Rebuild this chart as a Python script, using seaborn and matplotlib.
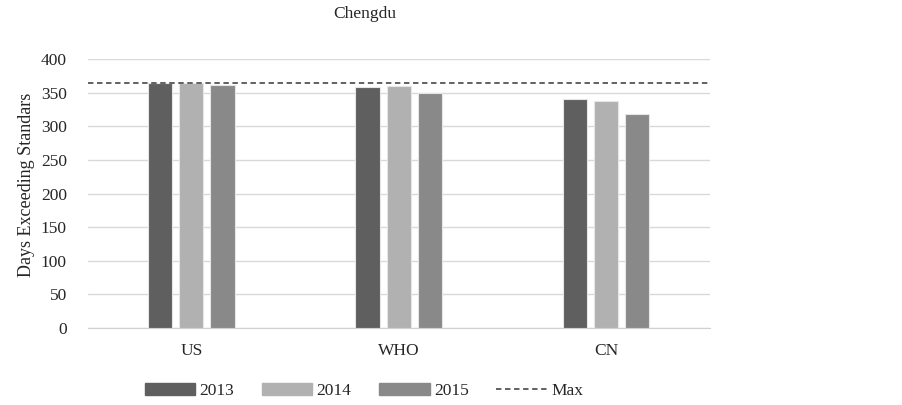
import pandas as pd
import matplotlib.pyplot as plt
import seaborn as sns
from matplotlib.lines import Line2D

# Data
standards = ["US", "WHO", "CN"]
years = ["2013", "2014", "2015"]
days_2013 = [365, 358, 340]
days_2014 = [365, 360, 338]
days_2015 = [362, 350, 318]
max_days = 365

df = pd.DataFrame({
    "standard": standards * 3,
    "year": [y for y in years for _ in standards],
    "days": days_2013 + days_2014 + days_2015,
})

sns.set_style("white")
plt.rcParams["font.family"] = ["Liberation Serif", "DejaVu Serif"]

palette = {"2013": "#5f5f5f", "2014": "#b1b1b1", "2015": "#898989"}

fig = plt.figure(figsize=(9.03, 4.05), dpi=100)
ax = fig.add_axes([0.097, 0.19, 0.689, 0.664])

sns.barplot(data=df, x="standard", y="days", hue="year", order=standards,
            hue_order=years, palette=palette, width=0.45, gap=0.22,
            edgecolor="#e6e6e6", linewidth=0.8, saturation=1,
            legend=False, ax=ax, zorder=3)

ax.axhline(max_days, color="#555555", linestyle=(0, (3, 2)), linewidth=1.3, zorder=4)

ax.set_xlim(-0.5, 2.5)
ax.set_ylim(0, 400)
ax.set_yticks(range(0, 401, 50))
ax.yaxis.grid(True, color="#d9d9d9", linewidth=1)
ax.set_axisbelow(True)
for s in ["top", "right", "left"]:
    ax.spines[s].set_visible(False)
ax.spines["bottom"].set_color("#d0d0d0")
ax.tick_params(axis="both", length=0, labelsize=12.5)
ax.tick_params(axis="y", pad=15)
ax.tick_params(axis="x", pad=11)
ax.set_xlabel(None)
ax.set_ylabel("Days Exceeding Standars", fontsize=13)
ax.yaxis.set_label_coords(-0.084, 0.532)

fig.text(0.404, 0.965, "Chengdu", ha="center", va="center", fontsize=12.5)

handles = [plt.Rectangle((0, 0), 1, 1, color=palette[y]) for y in years]
handles.append(Line2D([0], [0], color="#555555", linestyle=(0, (3, 2)), linewidth=1.3))
fig.legend(handles, years + ["Max"], loc="center", bbox_to_anchor=(0.403, 0.035),
           ncol=4, frameon=False, fontsize=12.5, handlelength=2.9, handleheight=0.75,
           columnspacing=1.6, handletextpad=0.25)

plt.savefig("out.png", dpi=100)
